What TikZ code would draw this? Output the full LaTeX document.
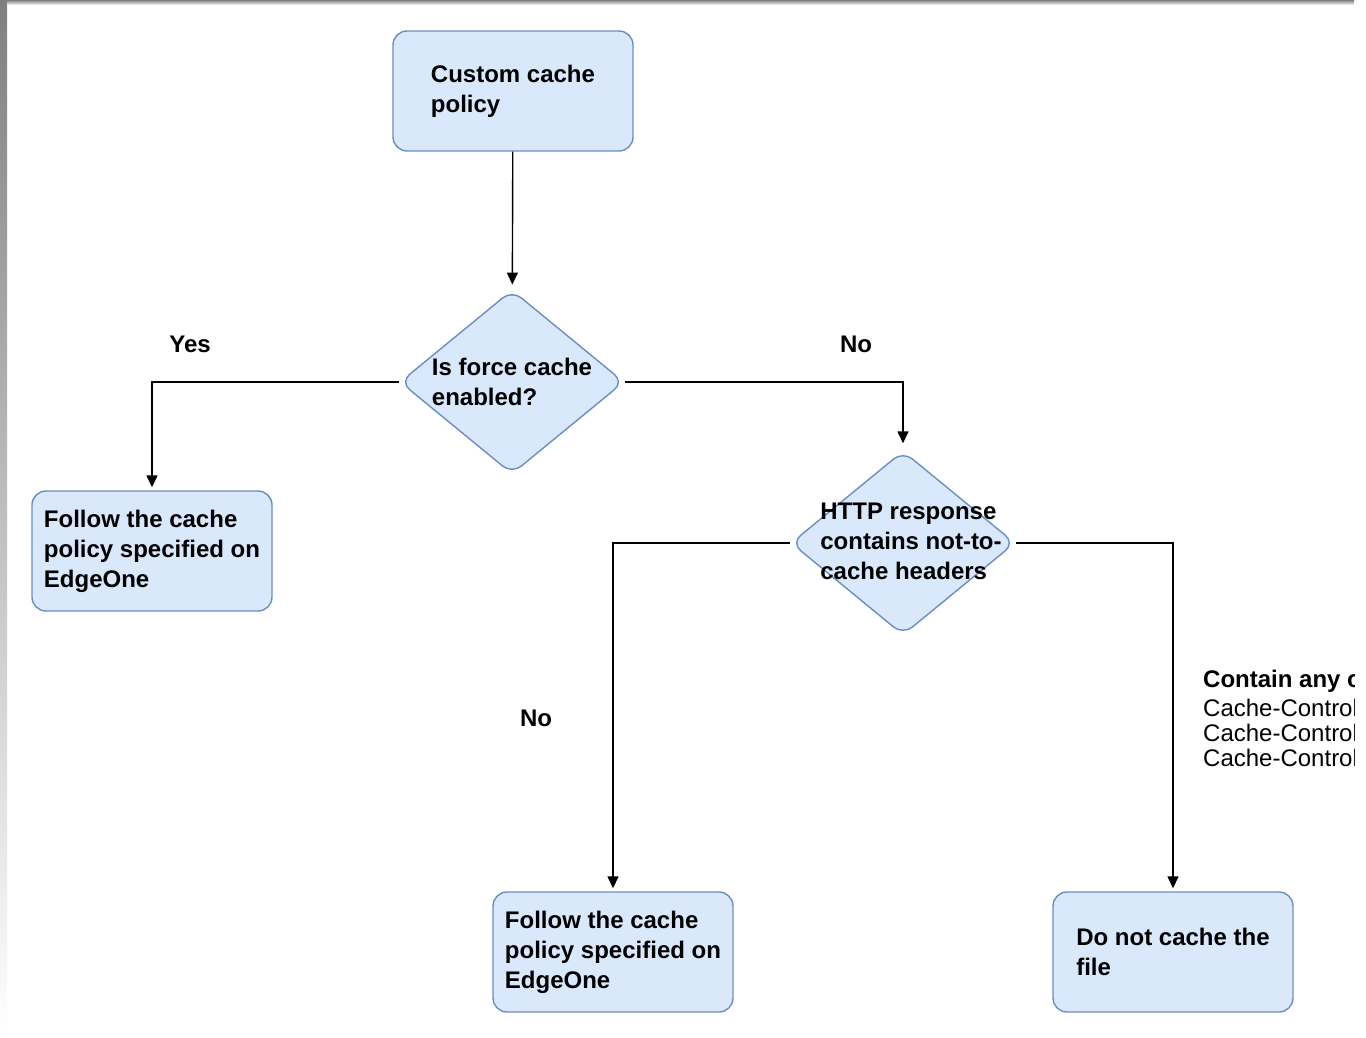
\documentclass[tikz,border=0pt]{standalone}
\usepackage{fontspec}
\setmainfont{Liberation Sans}
\usetikzlibrary{arrows.meta,shapes.geometric}
\definecolor{boxfill}{RGB}{218,232,252}
\definecolor{boxline}{RGB}{108,142,191}
\definecolor{shade}{RGB}{244,244,244}
\tikzset{
  stepbox/.style={draw=boxline,fill=boxfill,line width=1.4pt,rounded corners=14pt,
    minimum width=240pt,minimum height=120pt,align=left,
    font=\fontsize{24}{30}\selectfont\bfseries},
  decision/.style={draw=boxline,fill=boxfill,line width=1.4pt,diamond,rounded corners=12pt,
    minimum width=224pt,minimum height=184pt,inner sep=0pt},
  dtext/.style={align=left,font=\fontsize{24}{30}\selectfont\bfseries},
  flow/.style={line width=1.4pt,-{Triangle[length=12pt,width=11pt]}},
  answer/.style={font=\fontsize{24}{30}\selectfont\bfseries},
}
\begin{document}
\begin{tikzpicture}[x=1pt,y=1pt,yscale=-1,xscale=1]
\useasboundingbox (0,0) rectangle (1366,1037);
%panel and its shadow
\fill[white] (0,0) rectangle (1366,1037);
\fill[shade] (0,0) rectangle (7,1037);
\fill[shade] (7,0) rectangle (1354,5);
\clip (7,5) rectangle (1354,1037);

% Text Node
\node[stepbox] (custom) at (513,91) {Custom cache\\policy};
% Shape: Diamond
\node[decision] (force) at (512,382) {};
\node[dtext] (forcetxt) at (force.center) {Is force cache\\enabled?};
% Text Node
\node[stepbox] (followA) at (152,551) {Follow the cache\\policy specified on\\EdgeOne};
% Shape: Diamond
\node[decision] (http) at (903,543) {};
\node[dtext] (httptxt) at (911,541) {HTTP response\\contains not-to-\\cache headers};
% Text Node
\node[stepbox] (followB) at (613,952) {Follow the cache\\policy specified on\\EdgeOne};
% Text Node
\node[stepbox] (nocache) at (1173,952) {Do not cache the\\file};

%Straight Lines
\draw[flow,shorten >=5pt] (custom) -- (force);
\draw[flow,shorten >=3pt] (force.west) -| (followA.north);
\draw[flow,shorten >=7pt] (force.east) -| (http.north);
\draw[flow,shorten >=3pt] (http.west) -| (followB.north);
\draw[flow,shorten >=3pt] (http.east) -| (nocache.north);

% Text Node
\node[answer] (yes) at (190,344) {Yes};
\node[answer] (noA) at (856,344) {No};
\node[answer] (noB) at (536,718) {No};
% Text Node
\node[anchor=north west,inner sep=0pt,align=left,font=\fontsize{24}{25}\selectfont] (headers) at (1203,670)
  {\textbf{Contain any of}\\[4pt]Cache-Control\\Cache-Control\\Cache-Control};
\end{tikzpicture}
\end{document}
